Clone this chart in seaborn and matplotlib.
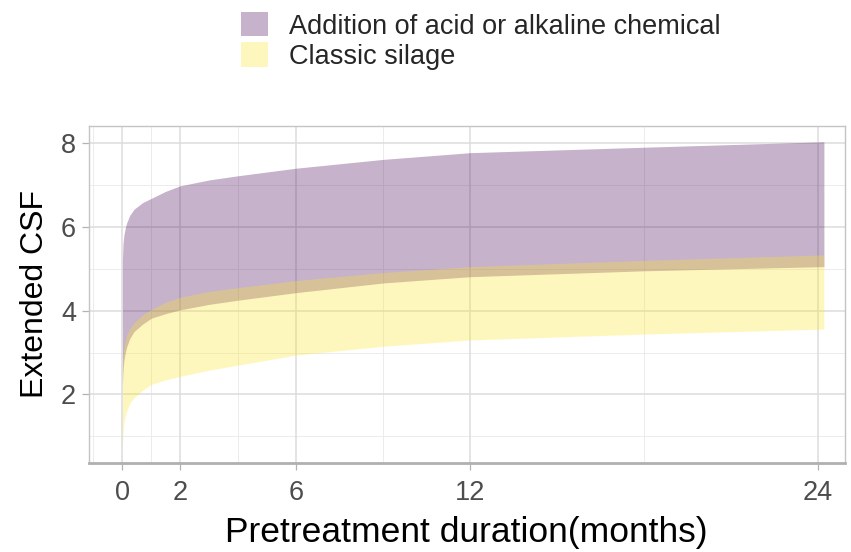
import matplotlib
matplotlib.use("Agg")
import matplotlib.pyplot as plt
from matplotlib.patches import Patch
import seaborn as sns
import pandas as pd

# months since start of pretreatment
months = [0, 0.02, 0.05, 0.1, 0.15, 0.25, 0.4, 0.7, 1, 1.5, 2, 3, 4, 6, 9, 12, 18, 24.2]

# acid / alkaline chemical band
chem_hi = [5.2, 5.6, 5.8, 5.98, 6.1, 6.27, 6.42, 6.58, 6.68, 6.85, 6.98, 7.12, 7.22, 7.40, 7.61, 7.77, 7.90, 8.03]
chem_lo = [2.2, 2.55, 2.8, 3.0, 3.14, 3.33, 3.5, 3.68, 3.82, 3.93, 4.02, 4.15, 4.25, 4.43, 4.66, 4.81, 4.95, 5.05]

# classic silage band
sil_hi = [2.6, 2.9, 3.1, 3.3, 3.42, 3.57, 3.71, 3.9, 4.03, 4.2, 4.32, 4.46, 4.55, 4.72, 4.91, 5.05, 5.20, 5.33]
sil_lo = [0.72, 1.05, 1.3, 1.5, 1.6, 1.78, 1.92, 2.1, 2.24, 2.35, 2.43, 2.58, 2.70, 2.94, 3.15, 3.30, 3.44, 3.56]

labels = ["Addition of acid or alkaline chemical", "Classic silage"]
xticks = [0, 2, 6, 12, 24]
xminor = [-1, 1, 4, 9, 18]
yticks = [2, 4, 6, 8]
yminor = [1, 3, 5, 7]

df = pd.DataFrame({"months": months, "chem_hi": chem_hi, "chem_lo": chem_lo,
                   "sil_hi": sil_hi, "sil_lo": sil_lo})

sns.set_theme(style="white")
plt.rcParams["font.family"] = ["Liberation Sans", "DejaVu Sans"]

purple = "#440154"
yellow = "#FDE725"

fig, ax = plt.subplots(figsize=(8.51, 5.52), dpi=100)
fig.subplots_adjust(left=0.104, right=0.993, top=0.772, bottom=0.161)

# grid lines (ggplot theme_light look)
for v in xminor:
    ax.axvline(v, color="#ececec", lw=0.7, zorder=0)
for v in yminor:
    ax.axhline(v, color="#ececec", lw=0.7, zorder=0)
for v in xticks:
    ax.axvline(v, color="#dcdcdc", lw=1.1, zorder=0)
for v in yticks:
    ax.axhline(v, color="#dcdcdc", lw=1.1, zorder=0)

ax.fill_between(df["months"], df["chem_lo"], df["chem_hi"], color=purple, alpha=0.3, lw=0, zorder=1)
ax.fill_between(df["months"], df["sil_lo"], df["sil_hi"], color=yellow, alpha=0.3, lw=0, zorder=2)

ax.set_xlim(-1.17, 24.93)
ax.set_ylim(0.36, 8.41)
ax.set_xticks(xticks)
ax.set_yticks(yticks)
ax.tick_params(axis="both", which="major", length=5, width=0.9, color="#b3b3b3",
               labelcolor="#4d4d4d", labelsize=19.5, bottom=True, left=True)
ax.tick_params(axis="x", pad=7)
ax.tick_params(axis="y", pad=4)

for side in ["top", "right", "left"]:
    ax.spines[side].set_color("#c4c4c4")
    ax.spines[side].set_linewidth(1.0)
ax.spines["bottom"].set_color("#b0b0b0")
ax.spines["bottom"].set_linewidth(2.0)

ax.set_xlabel("Pretreatment duration(months)", fontsize=25.5, color="black", labelpad=7)
ax.set_ylabel("Extended CSF", fontsize=23, color="black", labelpad=8)

handles = [Patch(facecolor=purple, alpha=0.3, edgecolor="none"),
           Patch(facecolor=yellow, alpha=0.3, edgecolor="none")]
fig.legend(handles, labels, loc="upper left", bbox_to_anchor=(0.269, 1.0), frameon=False,
           fontsize=19.5, handlelength=1.0, handleheight=1.0, handletextpad=0.75,
           labelspacing=0.1, borderaxespad=0.05)

fig.savefig("out.png", dpi=100)
